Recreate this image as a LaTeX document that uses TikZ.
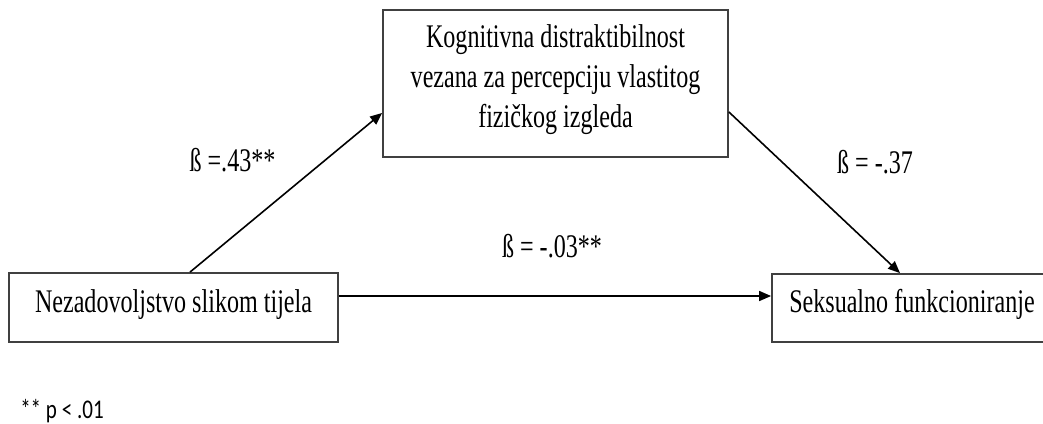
\documentclass[tikz,border=0pt]{standalone}
\usepackage{fontspec}
\setmainfont{Liberation Serif}[FakeStretch=0.73]
\newfontfamily\notefont{Carlito}[FakeStretch=0.78]
\usetikzlibrary{arrows.meta}
\begin{document}
\begin{tikzpicture}[x=0.5pt,y=-0.5pt,
  box/.style={draw=black!75, line width=0.9pt, inner sep=0pt, font=\fontsize{16.5}{20}\selectfont},
  onebox/.style={box, text height=12pt, text depth=7.5pt},
  path arrow/.style={draw=black, line width=0.8pt, -{Triangle[length=6pt,width=5pt]}},
  coef/.style={anchor=base, inner sep=0pt, font=\fontsize{16.5}{20}\selectfont}]
\useasboundingbox (0,0) rectangle (1043,423);
% variables
\node [onebox, minimum width=164.5pt, minimum height=34.5pt] (nezad) at (173.5,307.5) {Nezadovoljstvo slikom tijela};
\node [box, align=center, minimum width=172.5pt, minimum height=73.5pt] (kogn) at (555.5,83.5) {Kognitivna distraktibilnost\\vezana za percepciju vlastitog\\fizičkog izgleda\rule[-7.2pt]{0pt}{0pt}};
\node [onebox, minimum width=140pt, minimum height=34pt] (seks) at (912,308) {Seksualno funkcioniranje};
% paths
\draw [path arrow] ([xshift=8.25pt]nezad.north) -- ([yshift=-14.75pt]kogn.west);
\draw [path arrow] ([yshift=-14.25pt]kogn.east) -- ([xshift=-6pt]seks.north);
\draw [path arrow] ([yshift=5.75pt]nezad.east) -- ([yshift=5.75pt]nezad.east -| seks.west);
% coefficients
\node [coef] (b1) at (232.5,171) {ß =.43**};
\node [coef] (b2) at (875,173) {ß = -.37};
\node [coef] (b3) at (552,257) {ß = -.03**};
\node [coef, font=\notefont\fontsize{13.5}{16}\selectfont] (note) at (62,418) {** p < .01};
\end{tikzpicture}
\end{document}
